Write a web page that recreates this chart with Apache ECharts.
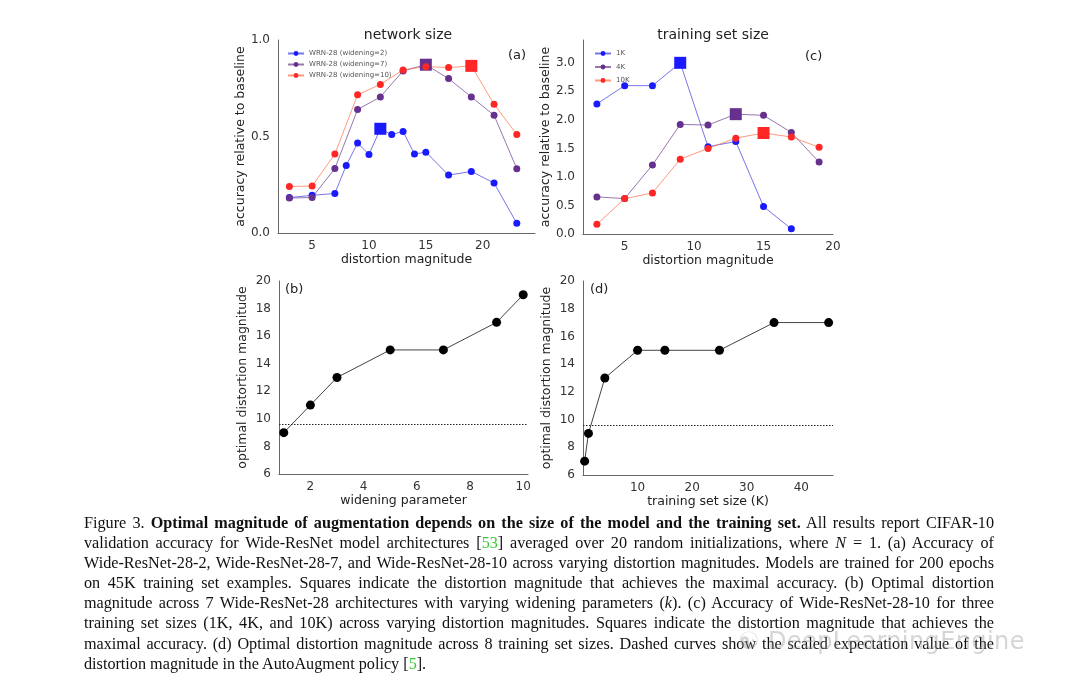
<!DOCTYPE html>
<html>
<head>
<meta charset="utf-8">
<script src="https://cdn.jsdelivr.net/npm/echarts@6/dist/echarts.min.js"></script>
<style>
  html, body { margin:0; padding:0; background:#fff; }
  #chart { position:absolute; left:0; top:0; width:1080px; height:695px; }
  #caption { position:absolute; left:84px; top:513px; width:910px; font-family:'Liberation Serif','Times New Roman',serif; font-size:16.2px; color:#111; }
  #caption .ln { height:20.1px; line-height:20.1px; white-space:nowrap; text-align:justify; text-align-last:justify; }
  #caption .ln.last { text-align-last:left; }
  #caption .g { color:#33cc33; }
  #wm { position:absolute; left:738px; top:627px; font-family:'DejaVu Sans',sans-serif; font-size:24px; color:rgba(150,150,150,0.4); letter-spacing:0.4px; }
</style>
</head>
<body>
<div id="chart"></div>
<div id="caption">
  <div class="ln">Figure 3. <b>Optimal magnitude of augmentation depends on the size of the model and the training set.</b> All results report CIFAR-10</div>
  <div class="ln">validation accuracy for Wide-ResNet model architectures [<span class="g">53</span>] averaged over 20 random initializations, where <i>N</i> = 1. (a) Accuracy of</div>
  <div class="ln">Wide-ResNet-28-2, Wide-ResNet-28-7, and Wide-ResNet-28-10 across varying distortion magnitudes. Models are trained for 200 epochs</div>
  <div class="ln">on 45K training set examples. Squares indicate the distortion magnitude that achieves the maximal accuracy. (b) Optimal distortion</div>
  <div class="ln">magnitude across 7 Wide-ResNet-28 architectures with varying widening parameters (<i>k</i>). (c) Accuracy of Wide-ResNet-28-10 for three</div>
  <div class="ln">training set sizes (1K, 4K, and 10K) across varying distortion magnitudes. Squares indicate the distortion magnitude that achieves the</div>
  <div class="ln">maximal accuracy. (d) Optimal distortion magnitude across 8 training set sizes. Dashed curves show the scaled expectation value of the</div>
  <div class="ln last">distortion magnitude in the AutoAugment policy [<span class="g">5</span>].</div>
</div>
<div id="wm">&#9775; DeepLearningEngine</div>
<script>
// ---- Data ----
const titleA = 'network size';
const titleC = 'training set size';
const aXBlue = [3,5,7,8,9,10,11,12,13,14,15,17,19,21,23];
const aBlue  = [0.184,0.195,0.205,0.35,0.466,0.407,0.54,0.51,0.526,0.409,0.419,0.30,0.319,0.259,0.05];
const aXOdd  = [3,5,7,9,11,13,15,17,19,21,23];
const aPurple= [0.181,0.184,0.334,0.64,0.705,0.84,0.872,0.80,0.705,0.61,0.333];
const aRed   = [0.241,0.243,0.409,0.716,0.77,0.845,0.862,0.857,0.866,0.667,0.51];
const aNames = ['WRN-28 (widening=2)','WRN-28 (widening=7)','WRN-28 (widening=10)'];

const cX1K  = [3,5,7,9,11,13,15,17];
const c1K   = [2.28,2.60,2.60,3.0,1.53,1.62,0.48,0.09];
const cX    = [3,5,7,9,11,13,15,17,19];
const c4K   = [0.65,0.62,1.21,1.92,1.91,2.10,2.08,1.78,1.26];
const c10K  = [0.17,0.62,0.72,1.31,1.50,1.68,1.77,1.70,1.52];
const cNames = ['1K','4K','10K'];

const bX = [1,2,3,5,7,9,10];
const bY = [9,11,13,15,15,17,19];
const dX = [0.3,1,4,10,15,25,35,45];
const dY = [7,9,13,15,15,15,17,17];
const autoAugmentRef = 9.6;

const ticksAX = [5,10,15,20];
const ticksAY = [0,0.5,1.0];
const ticksCY = [0,0.5,1.0,1.5,2.0,2.5,3.0];
const ticksBX = [2,4,6,8,10];
const ticksDX = [10,20,30,40];
const ticksBDY = [6,8,10,12,14,16,18,20];

// ---- Build ----
const FONT = 'DejaVu Sans';
const chart = echarts.init(document.getElementById('chart'), null, {renderer:'canvas'});

function argmax(a){ let m=0; a.forEach((v,i)=>{ if(v>a[m]) m=i; }); return m; }

function lineSeries(name, xs, ys, color, lineColor, idx){
  const mi = argmax(ys);
  return {
    name, type:'line', xAxisIndex:idx, yAxisIndex:idx,
    data: xs.map((x,i)=>({ value:[x, ys[i]], symbol: i===mi ? 'rect' : 'circle', symbolSize: i===mi ? 12 : 7 })),
    symbol:'circle', symbolSize:7,
    itemStyle:{ color: color, opacity:1 },
    lineStyle:{ color: lineColor, width:1 },
    emphasis:{ disabled:true }, animation:false
  };
}
function blackSeries(xs, ys, idx){
  return {
    type:'line', xAxisIndex:idx, yAxisIndex:idx,
    data: xs.map((x,i)=>[x, ys[i]]),
    symbol:'circle', symbolSize:9,
    itemStyle:{ color:'#000' }, lineStyle:{ color:'#444', width:1 },
    markLine:{ silent:true, symbol:['none','none'], label:{show:false},
      lineStyle:{ color:'#222', width:1, type:[1.5,1.5] },
      data:[{ yAxis: autoAugmentRef }] },
    emphasis:{ disabled:true }, animation:false
  };
}

const axisCommon = {
  axisLine:{ show:true, onZero:false, lineStyle:{ color:'#666', width:1 } },
  axisTick:{ show:false }, splitLine:{ show:false },
  nameTextStyle:{ fontFamily:FONT, fontSize:12.5, color:'#222' },
};
function xAx(idx, min, max, ticks, name){
  return Object.assign({}, axisCommon, {
    type:'value', gridIndex:idx, min, max, name, nameLocation:'middle', nameGap:19,
    axisLabel:{ customValues:ticks, fontFamily:FONT, fontSize:12, color:'#333', margin:7 }
  });
}
function yAx(idx, min, max, ticks, name, fmt){
  return Object.assign({}, axisCommon, {
    type:'value', gridIndex:idx, min, max, name, nameLocation:'middle', nameGap:30,
    axisLabel:{ customValues:ticks, fontFamily:FONT, fontSize:12, color:'#333', margin:8, formatter: fmt }
  });
}
const f1 = v => v.toFixed(1);
const f0 = v => String(v);

const option = {
  backgroundColor:'#fff',
  textStyle:{ fontFamily:FONT },
  title:[
    { text:titleA, left:403, top:23, textAlign:'center', textStyle:{ fontFamily:FONT, fontSize:14, fontWeight:'normal', color:'#222' } },
    { text:titleC, left:708, top:23, textAlign:'center', textStyle:{ fontFamily:FONT, fontSize:14, fontWeight:'normal', color:'#222' } }
  ],
  grid:[
    { left:278, top:40, width:257, height:193 },
    { left:583, top:40, width:250, height:194 },
    { left:279, top:281, width:249, height:193 },
    { left:583, top:281, width:250, height:194 }
  ],
  xAxis:[
    xAx(0, 2, 24.6, ticksAX, 'distortion magnitude'),
    xAx(1, 2, 20, ticksAX, 'distortion magnitude'),
    xAx(2, 0.82, 10.18, ticksBX, 'widening parameter'),
    xAx(3, 0, 45.8, ticksDX, 'training set size (K)')
  ],
  yAxis:[
    yAx(0, 0, 1, ticksAY, 'accuracy relative to baseline', f1),
    yAx(1, 0, 3.4, ticksCY, 'accuracy relative to baseline', f1),
    yAx(2, 6, 20, ticksBDY, 'optimal distortion magnitude', f0),
    yAx(3, 6, 20, ticksBDY, 'optimal distortion magnitude', f0)
  ],
  legend:[
    { data:aNames, orient:'vertical', left:282, top:45, itemWidth:16, itemHeight:6, itemGap:4,
      textStyle:{ fontFamily:FONT, fontSize:7, color:'#555' }, selectedMode:false },
    { data:cNames, orient:'vertical', left:589, top:45, itemWidth:16, itemHeight:6, itemGap:6.5,
      textStyle:{ fontFamily:FONT, fontSize:7, color:'#555' }, selectedMode:false }
  ],
  graphic:[
    { type:'text', left:508, top:49, style:{ text:'(a)', font:'13px "DejaVu Sans"', fill:'#222' } },
    { type:'text', left:805, top:50, style:{ text:'(c)', font:'13px "DejaVu Sans"', fill:'#222' } },
    { type:'text', left:285, top:283, style:{ text:'(b)', font:'13px "DejaVu Sans"', fill:'#222' } },
    { type:'text', left:590, top:283, style:{ text:'(d)', font:'13px "DejaVu Sans"', fill:'#222' } }
  ],
  series:[
    lineSeries(aNames[0], aXBlue, aBlue, '#1a1aff', 'rgba(60,60,220,0.7)', 0),
    lineSeries(aNames[1], aXOdd, aPurple, '#66308f', 'rgba(110,60,140,0.7)', 0),
    lineSeries(aNames[2], aXOdd, aRed, '#ff2626', 'rgba(255,110,70,0.7)', 0),
    lineSeries(cNames[0], cX1K, c1K, '#1a1aff', 'rgba(60,60,220,0.7)', 1),
    lineSeries(cNames[1], cX, c4K, '#66308f', 'rgba(110,60,140,0.7)', 1),
    lineSeries(cNames[2], cX, c10K, '#ff2626', 'rgba(255,110,70,0.7)', 1),
    blackSeries(bX, bY, 2),
    blackSeries(dX, dY, 3)
  ]
};
chart.setOption(option);
</script>
</body>
</html>
